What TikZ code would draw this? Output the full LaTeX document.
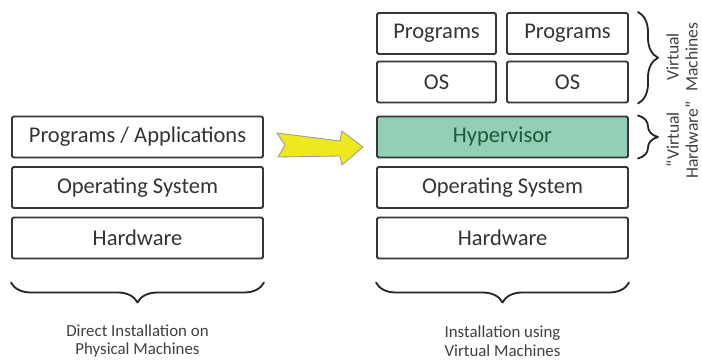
\documentclass[tikz,border=0pt]{standalone}
\usepackage{fontspec}
\setmainfont{Carlito}
\usetikzlibrary{decorations.pathreplacing}
\definecolor{hyperfill}{RGB}{146,208,182}
\definecolor{hypertext}{RGB}{28,88,58}
\definecolor{boxline}{RGB}{55,55,55}
\definecolor{arrowfill}{RGB}{240,232,30}
\def\u{0.025cm}
\tikzset{
	layer/.style={draw=boxline, line width=1.4pt, rounded corners=1pt, inner sep=0pt, minimum height=41*\u, text=black!80, font=\fontsize{16}{18}\selectfont},
	caption/.style={align=center, text=black!75, font=\fontsize{12}{13.5}\selectfont},
	sidecap/.style={caption, rotate=90, font=\fontsize{12.5}{13.5}\selectfont},
	bigbrace/.style={decorate, decoration={brace, amplitude=20*\u}, line width=1.3pt, draw=black!85}
}
\begin{document}
\begin{tikzpicture}[x=0.025cm, y=-0.025cm, line join=round, line cap=round]
	\useasboundingbox (0,0) rectangle (702,360);
	\def\xl{137.5} \def\xr{502.5} % Tâm hai cột
	% cột trái
	\node[layer, minimum width=251*\u] (apps) at (\xl,137) {Programs / Applications};
	\node[layer, minimum width=251*\u] (os) at (\xl,187.5) {Operating System};
	\node[layer, minimum width=251*\u] (hw) at (\xl,238) {Hardware};
	% cột phải
	\foreach \x/\w/\n in {436.5/119/A,567.5/121/B}{
		\node[layer, minimum width=\w*\u] (prog\n) at (\x,33.5) {Programs};
		\node[layer, minimum width=\w*\u] (os\n) at (\x,82) {OS};
	}
	\node[layer, fill=hyperfill, text=hypertext, minimum width=251*\u] (hyper) at (\xr,137) {Hypervisor};
	\node[layer, minimum width=251*\u] (vos) at (\xr,187.5) {Operating System};
	\node[layer, minimum width=251*\u] (vhw) at (\xr,238) {Hardware};
	% mũi tên
	\draw[draw=black!40, fill=arrowfill, line width=0.6pt] (277,133)--(340,141)--(342,131)--(363,147)--(342,165)--(340,156)--(278,157)--(285,145)--cycle;
	% ngoặc
	\draw[bigbrace] ([yshift=-23*\u]hw.south east)--([yshift=-23*\u]hw.south west);
	\draw[bigbrace] ([yshift=-23*\u]vhw.south east)--([yshift=-23*\u]vhw.south west);
	\draw[bigbrace] ([xshift=9*\u]progB.north east)--([xshift=9*\u]osB.south east);
	\draw[bigbrace] ([xshift=9*\u]hyper.north east)--([xshift=9*\u]hyper.south east);
	\node[caption] (leftcap) at (\xl,341) {Direct Installation on\\Physical Machines};
	\node[caption] (rightcap) at (\xr,341) {Installation using\\Virtual Machines};
	\node[sidecap] (vmcap) at (682,57) {Virtual\\Machines};
	\node[sidecap] (vhcap) at (682,140) {“Virtual\\Hardware”};
\end{tikzpicture}
\end{document}
